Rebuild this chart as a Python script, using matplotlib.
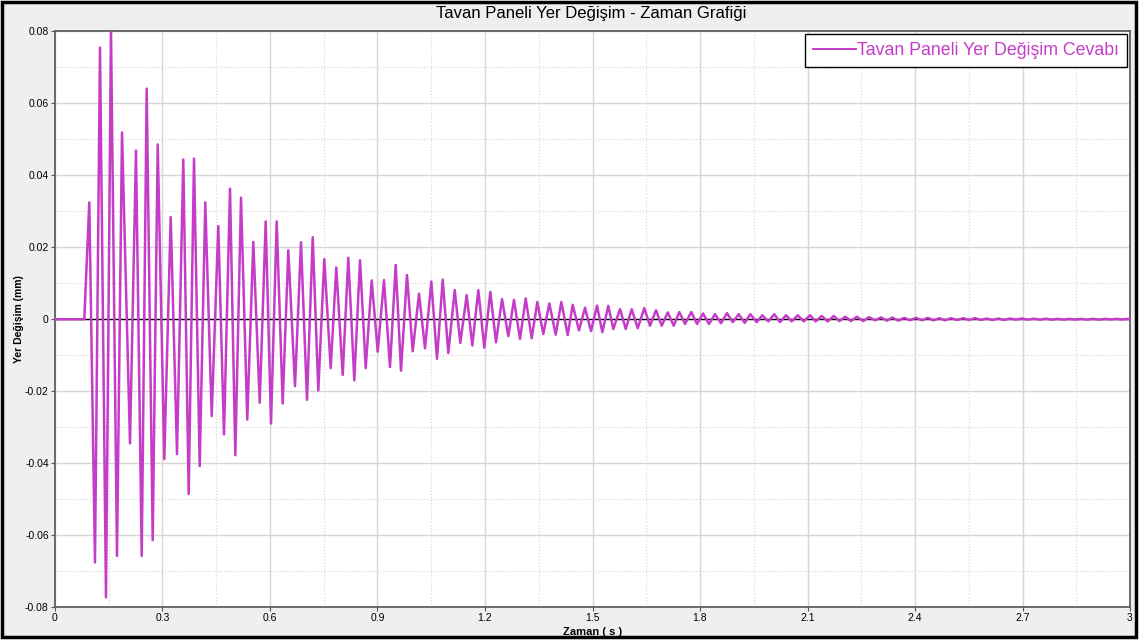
import matplotlib
matplotlib.use("Agg")
import matplotlib.pyplot as plt
import matplotlib.ticker as ticker
from matplotlib.patches import Rectangle

# --- Data: extrema of the response (s, mm) ---
time_s = [
    0.0, 0.0818, 0.0957, 0.1116, 0.1256, 0.1423, 0.1563, 0.1730, 0.1870, 0.2093,
    0.2260, 0.2420, 0.2559, 0.2727, 0.2866, 0.3050, 0.3229, 0.3405, 0.3580, 0.3731,
    0.3879, 0.4038, 0.4194, 0.4373, 0.4557, 0.4716, 0.4884, 0.5032, 0.5191, 0.5366,
    0.5534, 0.5713, 0.5880, 0.6028, 0.6187, 0.6354, 0.6511, 0.6698, 0.6865, 0.7033,
    0.7192, 0.7348, 0.7515, 0.7694, 0.7850, 0.8029, 0.8185, 0.8353, 0.8512, 0.8671,
    0.8838, 0.9006, 0.9181, 0.9349, 0.9508, 0.9656, 0.9823, 0.9982, 1.0158, 1.0326,
    1.0502, 1.0660, 1.0820, 1.0976, 1.1155, 1.1311, 1.1489, 1.1646, 1.1813, 1.1981,
    1.2148, 1.2307, 1.2475, 1.2650, 1.2809, 1.2977, 1.3136, 1.3303, 1.3460, 1.3627,
    1.3795, 1.3973, 1.4130, 1.4308, 1.4447, 1.4623, 1.4791, 1.4958, 1.5126, 1.5274,
    1.5441, 1.5581, 1.5768, 1.5927, 1.6094, 1.6261, 1.6446, 1.6605, 1.6772, 1.6931,
    1.7099, 1.7266, 1.7423, 1.7582, 1.7757, 1.7916, 1.8084, 1.8251, 1.8419, 1.8586,
    1.8754, 1.8913, 1.9080, 1.9248, 1.9404, 1.9583, 1.9739, 1.9906, 2.0074, 2.0233,
    2.0400, 2.0559, 2.0727, 2.0894, 2.1070, 2.1229, 2.1396, 2.1564, 2.1731, 2.1888,
    2.2055, 2.2214, 2.2381, 2.2557, 2.2716, 2.2884, 2.3051, 2.3219, 2.3367, 2.3534,
    2.3702, 2.3861, 2.4028, 2.4196, 2.4355, 2.4516, 2.4678, 2.4837, 2.5005, 2.5172,
    2.5348, 2.5507, 2.5675, 2.5842, 2.6001, 2.6163, 2.6325, 2.6484, 2.6651, 2.6819,
    2.6978, 2.7154, 2.7321, 2.7489, 2.7648, 2.7815, 2.7983, 2.8144, 2.8306, 2.8465,
    2.8633, 2.8800, 2.8959, 2.9135, 2.9303, 2.9470, 2.9629, 2.9791, 2.9953, 3.0,
]
disp_mm = [
    0.0, 0.0, 0.0325, -0.0676, 0.0755, -0.0773, 0.0800, -0.0658, 0.0519, -0.0345,
    0.0469, -0.0658, 0.0641, -0.0614, 0.0486, -0.0389, 0.0284, -0.0375, 0.0444, -0.0486,
    0.0447, -0.0408, 0.0325, -0.0269, 0.0259, -0.0320, 0.0363, -0.0378, 0.0338, -0.0279,
    0.0215, -0.0232, 0.0272, -0.0290, 0.0272, -0.0234, 0.0192, -0.0186, 0.0214, -0.0224,
    0.0228, -0.0198, 0.0167, -0.0136, 0.0144, -0.0155, 0.0171, -0.0170, 0.0164, -0.0136,
    0.0108, -0.0090, 0.0109, -0.0133, 0.0151, -0.0143, 0.0123, -0.0089, 0.0071, -0.0081,
    0.0105, -0.0110, 0.0110, -0.0094, 0.0081, -0.0066, 0.0067, -0.0073, 0.0081, -0.0079,
    0.0076, -0.0064, 0.0056, -0.0047, 0.0054, -0.0055, 0.0058, -0.0053, 0.0048, -0.0041,
    0.0044, -0.0043, 0.0048, -0.0044, 0.0040, -0.0031, 0.0032, -0.0033, 0.0038, -0.0036,
    0.0037, -0.0027, 0.0028, -0.0027, 0.0028, -0.0025, 0.0031, -0.0018, 0.0025, -0.0018,
    0.0019, -0.0018, 0.0020, -0.0013, 0.0020, -0.0013, 0.0016, -0.0013, 0.0014, -0.0011,
    0.0017, -0.0008, 0.0014, -0.0010, 0.0014, -0.0008, 0.0011, -0.0006, 0.0014, -0.0008,
    0.0011, -0.0006, 0.0011, -0.0006, 0.0011, -0.0006, 0.0009, -0.0006, 0.0009, -0.0005,
    0.0007, -0.0005, 0.0007, -0.0005, 0.0006, -0.0003, 0.0005, -0.0004, 0.0005, -0.0004,
    0.0004, -0.0003, 0.0004, -0.0003, 0.0004, -0.0003, 0.0003, -0.0003, 0.0003, -0.0002,
    0.0003, -0.0002, 0.0003, -0.0002, 0.0002, -0.0002, 0.0002, -0.0002, 0.0002, -0.0001,
    0.0002, -0.0001, 0.00015, -0.0001, 0.00015, -0.0001, 0.0001, -0.0001, 0.0001, -0.0001,
    0.0001, -0.0001, 0.0001, -0.0001, 0.0001, -0.00005, 0.0001, -0.00005, 0.0001, 0.0,
]

title = "Tavan Paneli Yer Değişim - Zaman Grafiği"
series_label = "Tavan Paneli Yer Değişim Cevabı"
x_label = "Zaman ( s )"
y_label = "Yer Değişim (mm)"

# --- Style ---
line_color = "#C43CC8"
plt.rcParams["font.family"] = ["Liberation Sans", "DejaVu Sans"]

fig = plt.figure(figsize=(11.47, 6.44), dpi=100, facecolor="white")
fig.patches.append(Rectangle((0.002, 0.0115), 0.988, 0.986, transform=fig.transFigure,
                             facecolor="#efefef", edgecolor="black", lw=2.5, zorder=-10))

ax = fig.add_axes([0.04795, 0.05745, 0.93723, 0.89364])
ax.set_facecolor("white")

ax.axhline(0, color="black", lw=1.0, zorder=2)
ax.plot(time_s, disp_mm, color=line_color, lw=1.8, label=series_label, zorder=3,
        solid_joinstyle="round")

ax.set_xlim(0, 3)
ax.set_ylim(-0.08, 0.08)
ax.xaxis.set_major_locator(ticker.MultipleLocator(0.3))
ax.xaxis.set_minor_locator(ticker.MultipleLocator(0.15))
ax.yaxis.set_major_locator(ticker.MultipleLocator(0.02))
ax.yaxis.set_minor_locator(ticker.MultipleLocator(0.01))
ax.xaxis.set_major_formatter(ticker.FuncFormatter(lambda v, _: f"{v:g}"))
ax.yaxis.set_major_formatter(ticker.FuncFormatter(lambda v, _: f"{round(v, 3):g}"))

ax.grid(True, which="major", color="#d6d6d6", ls="-", lw=1.0, zorder=0)
ax.grid(True, which="minor", color="#dadada", ls=(0, (1, 1.5)), lw=0.9, zorder=0)
ax.set_axisbelow(True)

ax.tick_params(which="major", direction="out", length=3, width=0.8, color="#555555",
               labelsize=7.5, pad=1.5)
ax.tick_params(which="minor", length=0)
for s in ax.spines.values():
    s.set_color("#606060")
    s.set_linewidth(1.3)

ax.set_xlabel(x_label, fontsize=8, fontweight="bold", labelpad=3)
ax.set_ylabel(y_label, fontsize=7.5, fontweight="bold", labelpad=1)
fig.text(0.515, 0.979, title, ha="center", va="center", fontsize=12)

leg = ax.legend(loc="upper right", bbox_to_anchor=(1, 1), borderaxespad=0.15,
                fontsize=12.8, handlelength=2.4, handletextpad=0.1, borderpad=0.45,
                fancybox=False, framealpha=1, labelcolor=line_color)
leg.get_frame().set_edgecolor("black")
leg.get_frame().set_linewidth(1.0)
leg.get_lines()[0].set_linewidth(1.4)

fig.savefig("out.png", dpi=100, facecolor=fig.get_facecolor())
